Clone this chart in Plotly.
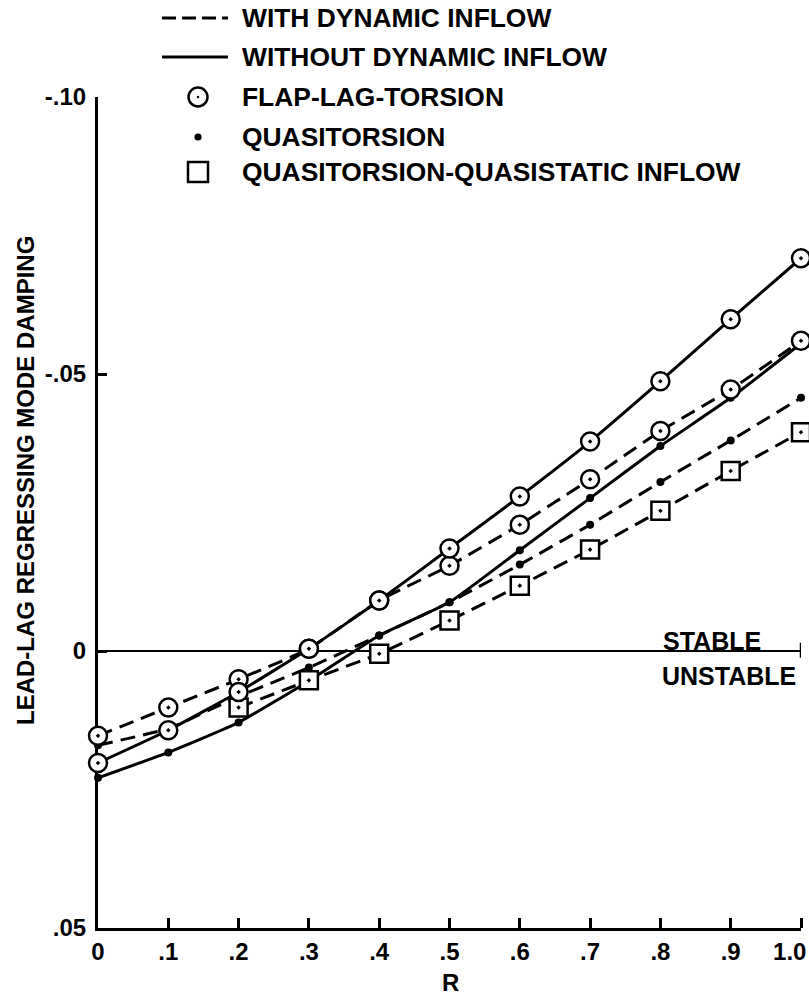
import plotly.graph_objects as go

# Figure geometry (pixels)
W_FIG, H_FIG = 809, 996
M_L, M_R, M_T, M_B = 98, 8, 97, 68
PW = W_FIG - M_L - M_R
PH = H_FIG - M_T - M_B

# Advance ratio R and lead-lag regressing mode damping for each model
r_values = [0.0, 0.1, 0.2, 0.3, 0.4, 0.5, 0.6, 0.7, 0.8, 0.9, 1.0]
flt_without = [0.0202, 0.0143, 0.0074, -0.0004, -0.0091, -0.0185, -0.0279, -0.0378, -0.0487, -0.0599, -0.0709]
flt_with = [0.0153, 0.0102, 0.0051, -0.0004, -0.0091, -0.0154, -0.0228, -0.0310, -0.0397, -0.0472, -0.0560]
qt_without = [0.0229, 0.0183, 0.0129, 0.0054, -0.0028, -0.0088, -0.0182, -0.0276, -0.0370, -0.0457, -0.0555]
qt_with = [0.0170, 0.0140, 0.0082, 0.0030, -0.0028, -0.0088, -0.0156, -0.0228, -0.0305, -0.0380, -0.0457]
qtqs_r = [0.2, 0.3, 0.4, 0.5, 0.6, 0.7, 0.8, 0.9, 1.0]
qtqs_with = [0.0102, 0.0053, 0.0005, -0.0055, -0.0118, -0.0183, -0.0253, -0.0325, -0.0395]

x_ticks = [0.0, 0.1, 0.2, 0.3, 0.4, 0.5, 0.6, 0.7, 0.8, 0.9, 1.0]
x_tick_text = ["0", ".1", ".2", ".3", ".4", ".5", ".6", ".7", ".8", ".9", "1.0"]
# label anchors: the last one is nudged inward so "1.0" stays on the page
x_label_pos = x_ticks[:-1] + [0.984]
y_ticks = [-0.10, -0.05, 0.0, 0.05]
y_tick_text = ["-.10", "-.05", "0", ".05"]

legend_labels = [
    "WITH DYNAMIC INFLOW",
    "WITHOUT DYNAMIC INFLOW",
    "FLAP-LAG-TORSION",
    "QUASITORSION",
    "QUASITORSION-QUASISTATIC INFLOW",
]

FONT = "Liberation Sans, Arial, Helvetica, sans-serif"
INK = "black"
DASH = "15px,8px"


def px_x(px):
    return (px - M_L) / PW


def px_y(py):
    return (H_FIG - M_B - py) / PH


fig = go.Figure()

# Curves first, so every marker sits on top of every line
curves = [
    (r_values, flt_without, "solid"),
    (r_values, flt_with, DASH),
    (r_values, qt_without, "solid"),
    (r_values, qt_with, DASH),
    (qtqs_r, qtqs_with, DASH),
]
for xs, ys, dash in curves:
    fig.add_trace(go.Scatter(
        x=xs, y=ys, mode="lines",
        line=dict(color=INK, width=3, dash=dash, shape="spline", smoothing=0.4),
        cliponaxis=False, showlegend=False, hoverinfo="skip",
    ))

# Quasitorsion: small solid dots
for ys in (qt_without, qt_with):
    fig.add_trace(go.Scatter(
        x=r_values, y=ys, mode="markers",
        marker=dict(symbol="circle", size=8, color=INK, line=dict(width=0)),
        cliponaxis=False, showlegend=False, hoverinfo="skip",
    ))

# Quasitorsion-quasistatic inflow: open squares with centre dot
fig.add_trace(go.Scatter(
    x=qtqs_r, y=qtqs_with, mode="markers",
    marker=dict(symbol="square-dot", size=18, color="white", line=dict(color=INK, width=2.5)),
    cliponaxis=False, showlegend=False, hoverinfo="skip",
))

# Flap-lag-torsion: open circles with centre dot
for ys in (flt_with, flt_without):
    fig.add_trace(go.Scatter(
        x=r_values, y=ys, mode="markers",
        marker=dict(symbol="circle-dot", size=18, color="white", line=dict(color=INK, width=2.5)),
        cliponaxis=False, showlegend=False, hoverinfo="skip",
    ))

shapes = []
annotations = []

# Stability boundary tick at the right end of the zero line
shapes.append(dict(type="line", xref="x", yref="y", x0=1.0, x1=1.0, y0=-0.0015, y1=0.0012,
                   line=dict(color=INK, width=2.5)))

# Key: line styles
key_rows = [18, 57, 97, 137, 172]
shapes.append(dict(type="line", xref="paper", yref="paper",
                   x0=px_x(162), x1=px_x(228), y0=px_y(key_rows[0]), y1=px_y(key_rows[0]),
                   line=dict(color=INK, width=3, dash="14px,6px")))
shapes.append(dict(type="line", xref="paper", yref="paper",
                   x0=px_x(162), x1=px_x(228), y0=px_y(key_rows[1]), y1=px_y(key_rows[1]),
                   line=dict(color=INK, width=3)))


def pixel_shape(kind, cx, cy, half, fill, lw):
    return dict(type=kind, xref="paper", yref="paper",
                xsizemode="pixel", ysizemode="pixel",
                xanchor=px_x(cx), yanchor=px_y(cy),
                x0=-half, x1=half, y0=-half, y1=half,
                fillcolor=fill, line=dict(color=INK, width=lw))


# Key: marker symbols
shapes.append(pixel_shape("circle", 198, key_rows[2], 9.5, "white", 2.5))
shapes.append(pixel_shape("circle", 198, key_rows[2], 1.2, INK, 0))
shapes.append(pixel_shape("circle", 198, key_rows[3], 3.6, INK, 0))
shapes.append(pixel_shape("rect", 198, key_rows[4], 10, "white", 2.5))

for label, row in zip(legend_labels, key_rows):
    annotations.append(dict(text=label, xref="paper", yref="paper", x=px_x(240), y=px_y(row),
                            xanchor="left", yanchor="middle", showarrow=False,
                            font=dict(family=FONT, size=26.4, color=INK, weight="bold")))

# Region labels on either side of the zero line
annotations.append(dict(text="STABLE", xref="paper", yref="paper", x=px_x(661), y=px_y(641),
                        xanchor="left", yanchor="middle", showarrow=False,
                        font=dict(family=FONT, size=25, color=INK, weight="bold")))
annotations.append(dict(text="UNSTABLE", xref="paper", yref="paper", x=px_x(660), y=px_y(676),
                        xanchor="left", yanchor="middle", showarrow=False,
                        font=dict(family=FONT, size=25, color=INK, weight="bold")))

# Axis titles
annotations.append(dict(text="LEAD-LAG REGRESSING MODE DAMPING", xref="paper", yref="paper",
                        x=px_x(25), y=px_y(481), xanchor="center", yanchor="middle",
                        textangle=-90, showarrow=False,
                        font=dict(family=FONT, size=24, color=INK, weight="bold")))
annotations.append(dict(text="R", xref="paper", yref="paper", x=px_x(450), y=px_y(983),
                        xanchor="center", yanchor="middle", showarrow=False,
                        font=dict(family=FONT, size=24, color=INK, weight="bold")))

fig.update_layout(
    width=W_FIG, height=H_FIG,
    margin=dict(l=M_L, r=M_R, t=M_T, b=M_B, pad=0, autoexpand=False),
    paper_bgcolor="white", plot_bgcolor="white",
    font=dict(family=FONT, size=24, color=INK, weight="bold"),
    showlegend=False,
    shapes=shapes,
    annotations=annotations,
    xaxis=dict(
        range=[0.0, 1.0], tickmode="array", tickvals=x_label_pos, ticktext=x_tick_text,
        ticks="",
        minor=dict(tickmode="array", tickvals=x_ticks[1:], ticks="inside", ticklen=10,
                   tickwidth=2.5, tickcolor=INK, showgrid=False),
        showline=True, linecolor=INK, linewidth=2.5, mirror=False,
        showgrid=False, zeroline=False, layer="below traces", automargin=False,
        tickfont=dict(family=FONT, size=24, color=INK, weight="bold"),
        ticklabelstandoff=0, ticklabeloverflow="allow",
    ),
    yaxis=dict(
        range=[0.05, -0.10], tickvals=y_ticks, ticktext=y_tick_text,
        ticks="inside", ticklen=9, tickwidth=2.5, tickcolor=INK,
        showline=True, linecolor=INK, linewidth=3, mirror=False,
        showgrid=False, zeroline=True, zerolinecolor=INK, zerolinewidth=2,
        layer="below traces", automargin=False,
        tickfont=dict(family=FONT, size=24, color=INK, weight="bold"),
        ticklabelstandoff=4,
    ),
)

fig.write_html("out.html")
